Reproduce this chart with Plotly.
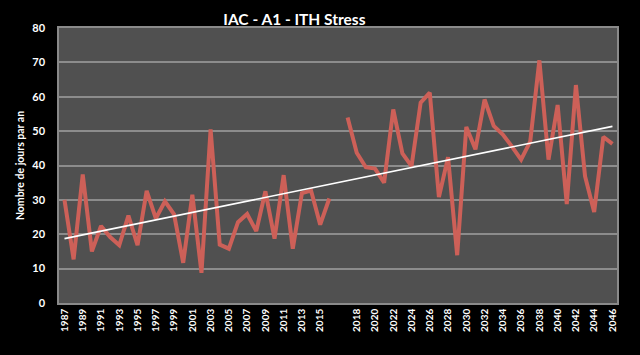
import numpy as np
import plotly.graph_objects as go

# Category axis: 1987-2016, one blank category, 2017-2046
years_a = [str(y) for y in range(1987, 2017)]
years_b = [str(y) for y in range(2017, 2047)]
categories = years_a + [" "] + years_b

values_a = [30, 12.7, 37.4, 15, 22.4, 19.2, 16.8, 25.4, 16.8, 32.6,
            24.6, 29.6, 25.8, 11.7, 31.5, 8.8, 50.5, 17, 15.8, 23.5,
            25.9, 20.9, 32.5, 18.7, 37.2, 15.8, 32, 32.7, 22.8, 30.4]
values_b = [54, 43.7, 39.5, 39.1, 35, 56.3, 43.5, 39.8, 58.3, 61.2,
            30.8, 42.4, 13.9, 51.2, 44.7, 59.2, 51.5, 49, 45.5, 41.7,
            47, 70.6, 41.7, 57.6, 28.8, 63.4, 36.9, 26.5, 48.3, 46.3]
values = values_a + [None] + values_b

title_text = "IAC - A1 - ITH Stress"
y_title = "Nombre de jours par an"

# Linear trend (Excel-style, over category positions, ignoring the blank)
idx = np.arange(len(categories))
mask = np.array([v is not None for v in values])
yv = np.array([v if v is not None else np.nan for v in values], dtype=float)
slope, intercept = np.polyfit(idx[mask] + 1, yv[mask], 1)
trend = slope * (idx + 1) + intercept

fig = go.Figure()
fig.add_trace(go.Scatter(x=categories, y=values, mode="lines",
                         line=dict(color="#cd6058", width=4),
                         connectgaps=False, hoverinfo="skip"))
fig.add_trace(go.Scatter(x=categories, y=trend, mode="lines",
                         line=dict(color="#ffffff", width=1.6),
                         hoverinfo="skip"))

tickvals = categories[::2]

fig.update_layout(
    width=640, height=355,
    paper_bgcolor="#000000",
    plot_bgcolor="#505050",
    showlegend=False,
    margin=dict(l=59, r=23, t=28, b=52),
    title=dict(text="<b>" + title_text + "</b>", x=0.46, xanchor="center",
               y=0.945, yanchor="middle",
               font=dict(family="Lato", size=15.5, color="#ffffff")),
    font=dict(family="Lato", color="#ffffff"),
)
fig.update_xaxes(type="category", categoryorder="array", categoryarray=categories,
                 range=[-0.6, 60.5], tickmode="array", tickvals=tickvals,
                 ticktext=["<b>" + t + "</b>" for t in tickvals],
                 tickangle=-90, tickfont=dict(family="Lato", size=10, color="#ffffff"),
                 showgrid=False, zeroline=False, showline=True, mirror=True,
                 linecolor="#8a8a8a", linewidth=1.5, ticks="", ticklen=0)
fig.update_yaxes(range=[0, 80], dtick=10, showgrid=True, gridcolor="#8c8c8c",
                 gridwidth=1.5, zeroline=False, showline=True, mirror=True,
                 linecolor="#8a8a8a", linewidth=1.5, ticks="", ticklabelstandoff=10,
                 tickfont=dict(family="Lato", size=11, color="#ffffff", weight="bold"),
                 title=dict(text="<b>" + y_title + "</b>", standoff=6,
                            font=dict(family="Lato", size=10.5, color="#ffffff")))

fig.write_html("out.html", config={"displayModeBar": False},
               post_script="document.body.style.margin='0';"
                           "document.body.style.background='#000';")
